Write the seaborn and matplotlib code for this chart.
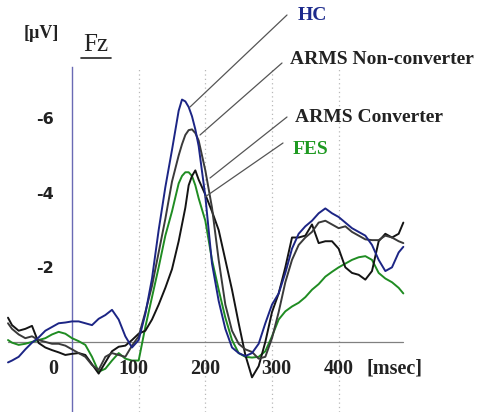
import matplotlib
matplotlib.use("Agg")
import matplotlib.pyplot as plt
import seaborn as sns
import pandas as pd
from matplotlib.lines import Line2D

# ---------------- data ----------------
time_ms = ([-96] + list(range(-90, 170, 10)) + [165, 170, 175, 180, 185]
           + list(range(190, 500, 10)) + [497])
time_ms = sorted(set(time_ms))

hc = [0.55, 0.5, 0.4, 0.2, 0.02, -0.12, -0.3, -0.4, -0.5, -0.52,
      -0.55, -0.55, -0.5, -0.45, -0.62, -0.72, -0.86, -0.6, -0.15, 0.15,
      -0.05, -0.75, -1.7, -3.0, -4.15, -5.15, -6.2, -6.5, -6.45, -6.3, -6.05, -5.7, -5.25,
      -3.9, -2.1, -1.1, -0.35, 0.15, 0.3, 0.38, 0.3, 0.05, -0.5,
      -1.0, -1.3, -1.85, -2.5, -2.9, -3.1, -3.25, -3.45, -3.58, -3.45,
      -3.35, -3.2, -3.05, -2.95, -2.85, -2.6, -2.2, -1.9, -2.0, -2.4, -2.55]

arms_nonconv = [-0.5, -0.35, -0.2, -0.1, -0.15, -0.05, 0.0, 0.05, 0.05, 0.1,
                0.2, 0.3, 0.4, 0.62, 0.75, 0.4, 0.3, 0.35, 0.4, 0.1,
                -0.15, -0.8, -1.5, -2.4, -3.3, -4.3, -5.0, -5.3, -5.55, -5.68, -5.7, -5.6, -5.4,
                -4.6, -3.6, -2.2, -1.0, -0.3, 0.05, 0.2, 0.27, 0.45, 0.4,
                -0.1, -0.8, -1.6, -2.2, -2.6, -2.8, -2.95, -3.2, -3.25, -3.15,
                -3.05, -3.1, -2.95, -2.85, -2.75, -2.73, -2.73, -2.85, -2.8, -2.7, -2.65]

arms_conv = [-0.65, -0.45, -0.3, -0.35, -0.43, 0.03, 0.15, 0.22, 0.28, 0.35,
             0.32, 0.3, 0.35, 0.6, 0.85, 0.55, 0.25, 0.13, 0.1, -0.05,
             -0.22, -0.3, -0.6, -1.0, -1.45, -1.95, -2.7, -3.15, -3.6, -4.2, -4.45, -4.6, -4.35,
             -3.95, -3.5, -3.0, -2.2, -1.4, -0.5, 0.35, 0.95, 0.65, 0.0,
             -0.8, -1.3, -2.0, -2.8, -2.8, -2.85, -3.15, -2.65, -2.7, -2.7,
             -2.5, -2.0, -1.85, -1.8, -1.67, -1.9, -2.7, -2.9, -2.8, -2.9, -3.2]

fes = [-0.05, 0.02, 0.08, 0.05, 0.0, -0.05, -0.1, -0.2, -0.27, -0.22,
       -0.1, -0.02, 0.08, 0.4, 0.8, 0.72, 0.5, 0.3, 0.45, 0.5,
       0.5, -0.4, -1.2, -2.0, -2.85, -3.5, -4.25, -4.45, -4.55, -4.55, -4.45, -4.2, -3.85,
       -3.25, -2.2, -1.4, -0.65, -0.05, 0.3, 0.4, 0.42, 0.4, 0.25,
       -0.15, -0.6, -0.82, -0.95, -1.05, -1.2, -1.4, -1.55, -1.75, -1.88,
       -2.0, -2.1, -2.2, -2.27, -2.3, -2.2, -1.85, -1.7, -1.6, -1.45, -1.3]

series_names = ["HC", "ARMS Non-converter", "ARMS Converter", "FES"]
y_major = [-6, -4, -2]
y_minor = [-7, -5, -3, -1, 0]
x_labels = [0, 100, 200, 300, 400]

# ---------------- styling ----------------
colors = {"HC": "#1c2585", "ARMS Non-converter": "#3a3a3a",
          "ARMS Converter": "#141414", "FES": "#1f8c22"}
text_colors = {"HC": "#1c2a8c", "ARMS Non-converter": "#222222",
               "ARMS Converter": "#222222", "FES": "#1f9a22"}
x_label_shift = {0: -20, 100: -8, 200: 0, 300: 6, 400: 0}

sns.set_style("white")
plt.rcParams["font.family"] = ["Liberation Serif", "DejaVu Serif"]

fig = plt.figure(figsize=(4.8, 4.12), dpi=100)
ax = fig.add_axes([0, 0, 1, 1])
ax.set_facecolor("white")

ax.set_xlim(-108, 612)
ax.set_ylim(1.88, -9.17)

# dotted verticals
for t in x_labels[1:]:
    ax.plot([t, t], [1.88, -7.37], ls=(0, (1, 2.5)), color="#b8b8b8", lw=0.9, zorder=1)
# zero line
ax.plot([time_ms[0], time_ms[-1]], [0, 0], color="#808080", lw=0.9, zorder=1)

n = len(time_ms)
df = pd.DataFrame({"time": time_ms * 4,
                   "value": hc + arms_nonconv + arms_conv + fes,
                   "group": sum([[s] * n for s in series_names], [])})
draw_order = ["FES", "ARMS Converter", "ARMS Non-converter", "HC"]
for name in draw_order:
    sub = df[df["group"] == name]
    sns.lineplot(data=sub, x="time", y="value", color=colors[name], lw=1.4,
                 estimator=None, sort=False, ax=ax, zorder=3,
                 solid_joinstyle="round")

# axes / spines
for s in ["top", "right", "bottom"]:
    ax.spines[s].set_visible(False)
ax.spines["left"].set_position(("data", 0))
ax.spines["left"].set_bounds(-7.37, 1.88)
ax.spines["left"].set_color("#6a6ab4")
ax.spines["left"].set_linewidth(1.0)
ax.set_xticks([])
ax.set_yticks(y_major)
ax.set_yticks(y_minor, minor=True)
ax.set_yticklabels([str(v) for v in y_major], fontfamily="DejaVu Sans",
                   fontweight="bold", fontsize=11.5, color="#222222")
ax.tick_params(axis="y", which="major", direction="out", length=9, width=1.2,
               color="#c2643c", pad=4)
ax.tick_params(axis="y", which="minor", direction="out", length=9, width=1.0,
               color="#dca083")
ax.set_xlabel("")
ax.set_ylabel("")

# x tick labels drawn inside the plot
for t in x_labels:
    ha = "right" if t == 0 else "center"
    ax.text(t + x_label_shift[t], 0.72, str(t), ha=ha, va="center", fontsize=14.5,
            fontweight="bold", color="#222222")
ax.text(442, 0.72, "[msec]", ha="left", va="center", fontsize=14.5,
        fontweight="bold", color="#222222")

# unit and electrode label
fig.text(41 / 480, 1 - 33 / 412, "[µV]", ha="center", va="center", fontsize=13,
         fontweight="bold", color="#222222")
fig.text(96 / 480, 1 - 45 / 412, "Fz", ha="center", va="center", fontsize=18,
         color="#222222")
fig.add_artist(Line2D([81 / 480, 111 / 480], [1 - 58 / 412, 1 - 58 / 412],
                      color="#222222", lw=1.2))

# leader labels
def px(x, y):
    return (x / 480, 1 - y / 412)

labels = {
    "HC": ((298, 15), (287, 15), (190, 107)),
    "ARMS Non-converter": ((290, 60), (282, 63), (200, 135)),
    "ARMS Converter": ((295, 118), (287, 117), (210, 178)),
    "FES": ((293, 149), (283, 143), (205, 197)),
}
for name, (tpos, l0, l1) in labels.items():
    fig.text(*px(*tpos), name, ha="left", va="center", fontsize=14,
             fontweight="bold", color=text_colors[name])
    fig.add_artist(Line2D([l0[0] / 480, l1[0] / 480],
                          [1 - l0[1] / 412, 1 - l1[1] / 412],
                          color="#555555", lw=0.9))

fig.savefig("out.png", dpi=100, facecolor="white")
